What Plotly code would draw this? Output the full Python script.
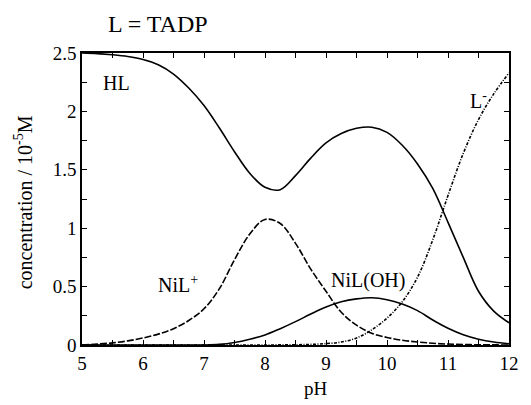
import plotly.graph_objects as go

ph = [5, 5.25, 5.5, 5.75, 6, 6.25, 6.5, 6.75, 7, 7.25, 7.5, 7.75, 8, 8.25, 8.5, 8.75,
      9, 9.25, 9.5, 9.75, 10, 10.25, 10.5, 10.75, 11, 11.25, 11.5, 11.75, 12]
hl = [2.50, 2.495, 2.485, 2.47, 2.445, 2.40, 2.32, 2.20, 2.05, 1.86, 1.655, 1.47, 1.35, 1.33,
      1.45, 1.60, 1.73, 1.81, 1.855, 1.865, 1.82, 1.71, 1.55, 1.34, 1.05, 0.75, 0.46, 0.29, 0.19]
nil = [0.0, 0.008, 0.018, 0.035, 0.06, 0.093, 0.14, 0.21, 0.31, 0.48, 0.73, 0.95, 1.075, 1.04,
       0.87, 0.65, 0.46, 0.28, 0.17, 0.10, 0.065, 0.04, 0.026, 0.015, 0.008, 0.004, 0.002, 0.001, 0.0]
niloh = [0.0, 0.0, 0.0, 0.0, 0.0, 0.0, 0.0, 0.0, 0.0, 0.005, 0.022, 0.05, 0.086, 0.14, 0.2,
         0.265, 0.325, 0.37, 0.395, 0.405, 0.388, 0.35, 0.294, 0.214, 0.143, 0.088, 0.05, 0.025, 0.01]
lminus = [0.0, 0.0, 0.0, 0.0, 0.0, 0.0, 0.0, 0.0, 0.0, 0.0, 0.0, 0.0, 0.0, 0.001, 0.002, 0.005,
          0.012, 0.025, 0.06, 0.13, 0.23, 0.37, 0.58, 0.90, 1.28, 1.64, 1.93, 2.15, 2.33]

x_ticks = [5, 6, 7, 8, 9, 10, 11, 12]
y_ticks = [0, 0.5, 1, 1.5, 2, 2.5]
y_tick_text = ["0", "0.5", "1", "1.5", "2", "2.5"]

FONT = "Liberation Serif, Times New Roman, serif"
fig = go.Figure()
line_w = 1.6
sm = 1.0
fig.add_trace(go.Scatter(x=ph, y=hl, mode="lines", line=dict(color="black", width=line_w, shape="spline", smoothing=sm)))
fig.add_trace(go.Scatter(x=ph, y=nil, mode="lines", line=dict(color="black", width=line_w, dash="7px,2px", shape="spline", smoothing=sm)))
fig.add_trace(go.Scatter(x=ph, y=niloh, mode="lines", line=dict(color="black", width=line_w, shape="spline", smoothing=sm)))
fig.add_trace(go.Scatter(x=ph, y=lminus, mode="lines", line=dict(color="black", width=line_w, dash="3px,1.5px,1px,1.5px", shape="spline", smoothing=sm)))

labels = [(5.56, 2.24, "HL"), (11.5, 2.1, "L<sup>-</sup>"), (6.57, 0.52, "NiL<sup>+</sup>"), (9.69, 0.55, "NiL(OH)")]
for x, y, t in labels:
    fig.add_annotation(x=x, y=y, text=t, showarrow=False, xanchor="center", yanchor="middle",
                       font=dict(family=FONT, size=20, color="black"))

fig.add_annotation(xref="paper", yref="paper", x=(160-82)/437, y=(345-24)/292, text="L = TADP",
                   showarrow=False, xanchor="center", yanchor="middle",
                   font=dict(family=FONT, size=24, color="black"))
fig.add_annotation(xref="paper", yref="paper", x=(321-82)/437, y=(345-388)/292, text="pH",
                   showarrow=False, xanchor="center", yanchor="middle",
                   font=dict(family=FONT, size=19, color="black"))
fig.add_annotation(xref="paper", yref="paper", x=(22-82)/437, y=(345-202)/292,
                   text="concentration / 10<sup>-5</sup>M", textangle=-90,
                   showarrow=False, xanchor="center", yanchor="middle",
                   font=dict(family=FONT, size=20, color="black"))

axis_common = dict(showgrid=False, zeroline=False, showline=True, linecolor="black", linewidth=1.5,
                   mirror="allticks", ticks="inside", ticklen=5, tickwidth=1.2, tickcolor="black",
                   tickfont=dict(family=FONT, size=19, color="black"))
fig.update_xaxes(range=[5, 12], tickvals=x_ticks, ticktext=[str(v) for v in x_ticks],
                 minor=dict(dtick=0.5, ticks="inside", ticklen=5, tickwidth=1.2, tickcolor="black"),
                 **axis_common)
fig.update_yaxes(range=[0, 2.5], tickvals=y_ticks, ticktext=y_tick_text,
                 minor=dict(dtick=0.25, ticks="inside", ticklen=5, tickwidth=1.2, tickcolor="black"),
                 **axis_common)
fig.update_layout(width=531, height=405, margin=dict(l=82, r=12, t=53, b=60),
                  paper_bgcolor="white", plot_bgcolor="white", showlegend=False,
                  font=dict(family=FONT, color="black"))
fig.write_html("out.html")
